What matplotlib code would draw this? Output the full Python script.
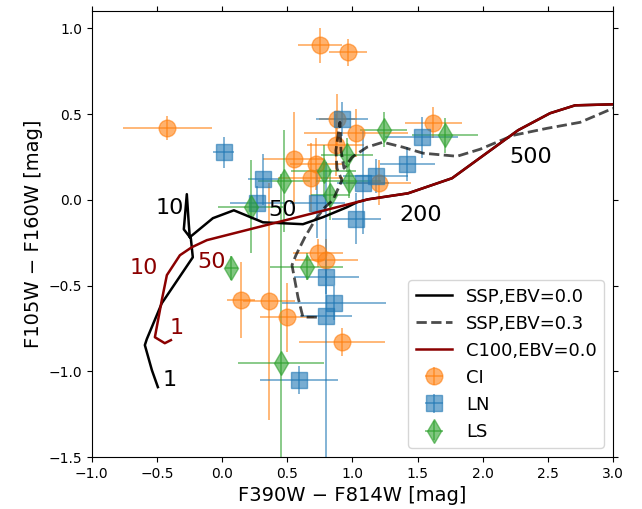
import numpy as np
import matplotlib
matplotlib.use('Agg')
import matplotlib.pyplot as plt

# model tracks (colour-colour)
ssp0_x = [-0.493, -0.539, -0.593, -0.578, -0.463, -0.225, -0.240, -0.294, -0.271,
          -0.256, -0.248, -0.071, 0.090, 0.313, 0.620, 0.774, 0.958, 1.035,
          1.119, 1.426, 1.764, 2.271, 2.516, 2.708, 3.0]
ssp0_y = [-1.092, -0.993, -0.847, -0.812, -0.603, -0.335, -0.225, -0.172, 0.033,
          -0.140, -0.218, -0.107, -0.061, -0.131, -0.142, -0.101, -0.043, -0.014,
          0.003, 0.038, 0.126, 0.406, 0.505, 0.551, 0.557]

ssp3_x = [0.727, 0.620, 0.582, 0.536, 0.566, 0.635, 0.712, 0.789, 0.850, 0.919,
          0.881, 0.873, 0.904, 0.912, 0.935, 0.996, 1.111, 1.234, 1.388, 1.541,
          1.802, 1.979, 2.232, 2.493, 2.747, 3.0]
ssp3_y = [-0.684, -0.684, -0.568, -0.381, -0.323, -0.218, -0.119, -0.043, -0.002, 0.114,
          0.184, 0.289, 0.452, 0.289, 0.184, 0.248, 0.307, 0.336, 0.307, 0.272,
          0.254, 0.295, 0.376, 0.417, 0.452, 0.534]

c100_x = [-0.393, -0.440, -0.516, -0.463, -0.424, -0.324, -0.232, -0.117, 1.119,
          1.426, 1.764, 2.271, 2.516, 2.708, 3.0]
c100_y = [-0.818, -0.836, -0.801, -0.585, -0.439, -0.323, -0.276, -0.235, 0.003,
          0.038, 0.126, 0.406, 0.505, 0.551, 0.557]

# observed clusters
ci_x = [-0.42, 0.75, 0.965, 0.88, 1.03, 0.87, 0.55, 0.72, 0.68, 1.20, 1.62,
        0.735, 0.80, 0.144, 0.359, 0.497, 0.92]
ci_y = [0.42, 0.90, 0.86, 0.47, 0.39, 0.32, 0.24, 0.21, 0.13, 0.10, 0.45,
        -0.31, -0.35, -0.585, -0.592, -0.685, -0.83]
ci_xerr = [0.34, 0.17, 0.145, 0.14, 0.40, 0.22, 0.24, 0.20, 0.25, 0.25, 0.22,
           0.19, 0.24, 0.11, 0.20, 0.21, 0.33]
ci_yerr = [0.07, 0.10, 0.08, 0.15, 0.14, 0.18, 0.27, 0.15, 0.20, 0.13, 0.09,
           0.08, 0.12, 0.22, 0.69, 0.20, 0.08]

ln_x = [0.013, 0.315, 0.27, 0.73, 0.92, 1.03, 1.08, 1.18, 1.42, 1.53, 0.80,
        0.86, 0.80, 0.59]
ln_y = [0.277, 0.12, -0.02, -0.02, 0.47, -0.11, 0.10, 0.14, 0.21, 0.365, -0.45,
        -0.60, -0.68, -1.05]
ln_xerr = [0.08, 0.12, 0.21, 0.21, 0.20, 0.19, 0.20, 0.25, 0.21, 0.28, 0.25,
           0.40, 0.20, 0.30]
ln_yerr = [0.09, 0.15, 0.10, 0.20, 0.10, 0.15, 0.30, 0.10, 0.10, 0.12, 0.10,
           0.10, 0.90, 0.08]

ls_x = [0.22, 0.475, 0.78, 0.83, 0.96, 0.97, 1.24, 1.71, 0.07, 0.65, 0.45]
ls_y = [-0.04, 0.11, 0.167, 0.03, 0.26, 0.11, 0.41, 0.376, -0.40, -0.39, -0.95]
ls_xerr = [0.25, 0.20, 0.25, 0.15, 0.20, 0.25, 0.18, 0.25, 0.05, 0.28, 0.33]
ls_yerr = [0.27, 0.30, 0.15, 0.15, 0.10, 0.10, 0.10, 0.10, 0.07, 0.08, 1.10]

fig = plt.figure(figsize=(6.42, 5.09), dpi=100)
ax = fig.add_axes([0.143, 0.102, 0.812, 0.876])

ebkw = dict(ls='none', ms=12, alpha=0.6, elinewidth=1.3, capsize=0)
ax.errorbar(ci_x, ci_y, xerr=ci_xerr, yerr=ci_yerr, fmt='o', color='tab:orange',
            label='CI', **ebkw)
ax.errorbar(ln_x, ln_y, xerr=ln_xerr, yerr=ln_yerr, fmt='s', color='tab:blue',
            label='LN', **ebkw)
ax.errorbar(ls_x, ls_y, xerr=ls_xerr, yerr=ls_yerr, fmt='d', color='tab:green',
            label='LS', **ebkw)

ax.plot(ssp0_x, ssp0_y, color='k', lw=1.8, label='SSP,EBV=0.0', zorder=3)
ax.plot(ssp3_x, ssp3_y, color='k', ls='--', lw=2, alpha=0.7, label='SSP,EBV=0.3', zorder=3)
ax.plot(c100_x, c100_y, color='darkred', lw=1.8, label='C100,EBV=0.0', zorder=3)

# age labels (Myr)
for s, x, y in [('1', -0.40, -1.05), ('10', -0.40, -0.05), ('50', 0.46, -0.06),
                ('200', 1.52, -0.09), ('500', 2.37, 0.25)]:
    ax.text(x, y, s, fontsize=16, ha='center', va='center', color='k')
for s, x, y in [('1', -0.35, -0.75), ('10', -0.60, -0.40), ('50', -0.08, -0.36)]:
    ax.text(x, y, s, fontsize=16, ha='center', va='center', color='darkred')

ax.set_xlim(-1.0, 3.0)
ax.set_ylim(-1.5, 1.1)
ax.set_xticks(np.arange(-1.0, 3.01, 0.5))
ax.set_yticks(np.arange(-1.5, 1.01, 0.5))
ax.tick_params(direction='out', top=True, right=True, labelsize=10)
ax.set_xlabel('F390W \u2212 F814W [mag]', fontsize=14)
ax.set_ylabel('F105W \u2212 F160W [mag]', fontsize=14)

ax.legend(loc='lower right', fontsize=13)

fig.savefig('out.png', dpi=100)
